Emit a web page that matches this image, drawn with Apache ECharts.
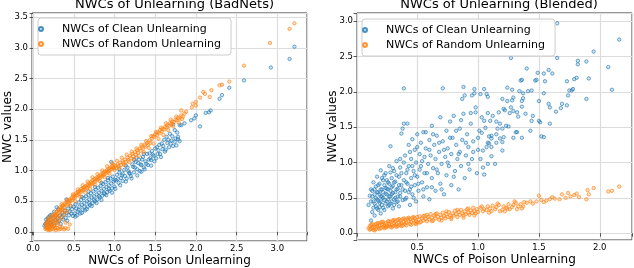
<!DOCTYPE html>
<html>
<head>
<meta charset="utf-8">
<script src="https://cdn.jsdelivr.net/npm/echarts@6/dist/echarts.min.js"></script>
<style>html,body{margin:0;padding:0;background:#fff}#c{width:634px;height:268px}</style>
</head>
<body>
<div id="c"></div>
<script>
// ---- Text ----
const titles = ['NWCs of Unlearning (BadNets)', 'NWCs of Unlearning (Blended)'];
const seriesNames = ['NWCs of Clean Unlearning', 'NWCs of Random Unlearning'];
const xAxisTitle = 'NWCs of Poison Unlearning';
const yAxisTitle = 'NWC values';
const tickStep = 0.5;

// ---- BadNets: Clean Unlearning [poison NWC, clean NWC] ----
const badnetsClean = [
[0.14,0.10],[0.15,0.13],[0.16,0.07],[0.17,0.15],[0.18,0.11],[0.19,0.18],[0.19,0.24],[0.20,0.09],[0.21,0.14],[0.22,0.20],
[0.23,0.12],[0.23,0.28],[0.24,0.17],[0.25,0.23],[0.26,0.10],[0.27,0.19],[0.28,0.26],[0.29,0.15],[0.30,0.22],[0.31,0.37],
[0.32,0.18],[0.33,0.27],[0.34,0.13],[0.35,0.24],[0.36,0.31],[0.37,0.20],[0.38,0.28],[0.39,0.35],[0.40,0.23],[0.41,0.53],
[0.41,0.31],[0.42,0.18],[0.43,0.38],[0.44,0.27],[0.45,0.33],[0.46,0.42],[0.47,0.30],[0.48,0.37],[0.49,0.26],[0.50,0.41],
[0.18,0.22],[0.21,0.27],[0.16,0.20],[0.26,0.33],[0.29,0.40],
[0.51,0.30],[0.52,0.45],[0.53,0.38],[0.54,0.27],[0.55,0.33],[0.56,0.48],[0.57,0.41],[0.58,0.30],[0.59,0.52],[0.60,0.44],
[0.61,0.36],[0.62,0.55],[0.63,0.47],[0.64,0.35],[0.65,0.58],[0.66,0.50],[0.67,0.41],[0.68,0.60],[0.69,0.53],[0.70,0.44],
[0.71,0.63],[0.72,0.56],[0.73,0.47],[0.74,0.66],[0.75,0.58],[0.76,0.50],[0.77,0.69],[0.78,0.61],[0.79,0.53],[0.80,0.72],
[0.81,0.64],[0.82,0.56],[0.83,0.75],[0.84,0.67],[0.85,0.59],[0.86,0.78],[0.87,0.70],[0.88,0.62],[0.89,0.81],[0.90,0.73],
[0.91,0.65],[0.92,0.84],[0.93,0.76],[0.94,0.67],[0.95,0.87],[0.96,1.14],[0.96,0.79],[0.97,0.71],[0.98,0.90],[0.99,0.82],
[1.00,0.74],[1.02,0.84],[1.03,0.93],[1.05,0.80],[1.06,0.97],[1.08,0.88],[1.09,0.92],[1.10,0.83],[1.12,1.01],[1.13,0.91],
[1.15,0.87],[1.16,1.05],[1.18,0.96],[1.19,0.95],[1.20,0.91],[1.22,1.10],[1.23,1.06],[1.24,0.97],[1.26,1.14],[1.27,1.21],
[1.28,1.02],[1.30,1.18],[1.31,0.99],[1.32,1.10],[1.33,1.09],[1.35,1.22],[1.36,1.05],[1.38,1.15],[1.39,1.11],[1.40,1.27],
[1.41,1.09],[1.43,1.28],[1.44,1.20],[1.45,1.17],[1.46,1.32],[1.48,1.24],[1.49,1.15],
[1.50,1.36],[1.52,1.38],[1.53,1.27],[1.55,1.42],[1.56,1.27],[1.58,1.44],[1.59,1.35],[1.61,1.50],[1.62,1.31],[1.64,1.55],
[1.65,1.45],[1.67,1.38],[1.68,1.60],[1.70,1.49],[1.72,1.40],[1.72,1.75],[1.74,1.47],[1.74,1.66],[1.76,1.41],[1.78,1.51],
[1.78,1.55],[1.80,1.74],[1.80,1.48],[1.82,1.74],[1.86,1.77],
[1.94,1.82],[1.98,1.85],[2.00,1.90],[2.05,1.72],[2.12,1.94],[2.16,1.95],[2.18,1.98],[2.29,2.17],[2.32,2.23],[2.41,2.35],
[2.59,2.47],[2.92,2.68],[3.15,2.82],[3.21,3.02],
[0.52,0.25],[0.56,0.36],[0.60,0.31],[0.63,0.41],[0.66,0.37],[0.69,0.47],[0.72,0.42],[0.75,0.52],[0.78,0.47],[0.81,0.58],
[0.84,0.52],[0.87,0.63],[0.90,0.60],[0.93,0.70],[0.97,0.64],[1.00,0.85],[1.01,0.70],[1.04,0.86],[1.07,0.76],[1.10,0.95],
[1.14,0.82],[1.17,0.99],[1.21,0.87],[1.25,1.05],[1.28,0.92],[1.29,1.12],[1.33,0.98],[1.34,1.18],[1.37,1.02],[1.42,1.18],
[1.45,1.08],[1.47,1.26],[1.51,1.20],[1.54,1.33],[1.57,1.22],[1.60,1.40],[1.63,1.34],[1.66,1.50],[1.69,1.44],[1.71,1.56],
[1.75,1.52],[1.77,1.62],[0.60,0.57],[0.68,0.66],[0.76,0.73],[0.84,0.80],[0.92,0.88],[1.06,1.02],[1.14,1.08],[1.24,1.17],
[1.36,1.27]
];

// ---- BadNets: Random Unlearning ----
const badnetsRandom = [
[0.15,0.05],[0.16,0.08],[0.16,0.12],[0.17,0.04],[0.17,0.10],[0.18,0.06],[0.18,0.14],[0.19,0.03],[0.19,0.09],[0.20,0.05],
[0.20,0.12],[0.20,0.17],[0.21,0.07],[0.21,0.03],[0.22,0.10],[0.22,0.15],[0.23,0.05],[0.23,0.19],[0.24,0.08],[0.24,0.13],
[0.25,0.04],[0.25,0.17],[0.26,0.10],[0.26,0.22],[0.27,0.06],[0.27,0.14],[0.28,0.20],[0.28,0.03],[0.29,0.11],[0.30,0.06],
[0.30,0.24],[0.31,0.16],[0.32,0.04],[0.33,0.09],[0.34,0.05],[0.36,0.07],[0.38,0.04],[0.40,0.06],[0.43,0.05],[0.18,0.19],
[0.16,0.15],[0.19,0.22],[0.21,0.20],[0.22,0.25],[0.24,0.26],
[0.35,0.22],[0.38,0.28],[0.42,0.33],[0.30,0.18],[0.45,0.12],[0.40,0.15],
[0.25,0.28],[0.26,0.25],[0.27,0.30],[0.28,0.27],[0.29,0.33],[0.30,0.29],[0.31,0.35],[0.32,0.31],[0.33,0.36],[0.33,0.40],
[0.34,0.34],[0.35,0.39],[0.36,0.42],[0.36,0.36],[0.37,0.44],[0.38,0.40],[0.39,0.46],[0.40,0.43],[0.41,0.49],[0.42,0.45],
[0.43,0.51],[0.44,0.48],[0.45,0.53],[0.46,0.50],[0.47,0.55],[0.48,0.52],[0.49,0.58],[0.50,0.55],[0.51,0.60],[0.52,0.57],
[0.53,0.63],[0.54,0.60],[0.55,0.65],[0.56,0.62],[0.57,0.67],[0.58,0.64],[0.59,0.70],[0.60,0.67],
[0.61,0.71],[0.62,0.68],[0.63,0.73],[0.64,0.70],[0.65,0.75],[0.66,0.72],[0.67,0.77],[0.68,0.74],[0.69,0.79],[0.70,0.76],
[0.71,0.81],[0.72,0.78],[0.73,0.84],[0.74,0.80],[0.75,0.86],[0.76,0.82],[0.77,0.87],[0.78,0.84],[0.79,0.89],[0.80,0.86],
[0.81,0.91],[0.82,0.88],[0.83,0.93],[0.84,0.90],[0.85,0.95],[0.86,0.92],[0.87,0.97],[0.88,0.94],[0.89,0.99],[0.90,0.96],
[0.91,1.01],[0.92,0.98],[0.93,1.03],[0.94,1.00],[0.95,1.05],[0.96,1.02],[0.97,1.07],[0.98,1.04],[0.99,1.09],[1.00,1.05],
[1.01,1.08],[1.02,1.04],[1.04,1.10],[1.05,1.07],[1.07,1.13],[1.08,1.09],[1.10,1.15],[1.11,1.12],[1.13,1.18],[1.14,1.14],
[1.16,1.21],[1.17,1.17],[1.19,1.24],[1.20,1.20],[1.22,1.27],[1.23,1.23],[1.25,1.30],[1.26,1.26],[1.28,1.33],[1.29,1.29],
[1.31,1.36],[1.32,1.32],[1.34,1.39],[1.35,1.36],[1.37,1.42],[1.38,1.39],[1.40,1.45],[1.41,1.42],[1.43,1.49],[1.44,1.45],
[1.46,1.52],[1.47,1.56],[1.49,1.55],[1.50,1.59],[1.52,1.58],[1.53,1.62],[1.55,1.61],[1.56,1.66],[1.58,1.64],[1.59,1.68],
[1.61,1.67],[1.62,1.71],[1.64,1.70],[1.65,1.74],[1.67,1.73],[1.68,1.77],[1.70,1.76],[1.71,1.80],[1.73,1.79],[1.75,1.83],
[1.77,1.82],[1.78,1.86],[1.80,1.85],[1.82,1.90],[1.84,1.88],[1.82,1.98],[1.86,1.93],[1.88,1.96],
[1.95,2.03],[1.96,2.09],[2.00,2.06],[2.00,2.12],[2.05,2.19],[2.09,2.28],[2.11,2.25],[2.17,2.20],[2.19,2.31],[2.29,2.39],
[2.32,2.40],[2.41,2.45],[2.59,2.71],[2.91,3.08],[3.15,3.31],[3.21,3.40],
[0.32,0.26],[0.35,0.45],[0.39,0.34],[0.42,0.52],[0.46,0.43],[0.49,0.61],[0.52,0.50],[0.55,0.69],[0.58,0.57],[0.61,0.76],
[0.64,0.64],[0.67,0.82],[0.70,0.70],[0.73,0.89],[0.76,0.77],[0.79,0.94],[0.82,0.83],[0.85,1.00],[0.88,0.89],[0.91,1.07],
[0.94,0.95],[0.97,1.12],[1.00,1.01],[1.03,1.16],[1.06,1.04],[1.09,1.21],[1.12,1.09],[1.15,1.26],[1.18,1.14],[1.21,1.31],
[1.24,1.19],[1.27,1.36],[1.30,1.24],[1.33,1.42],[1.36,1.30],[1.39,1.48],[1.42,1.37],[1.45,1.56],[1.48,1.44],[1.51,1.63],
[1.54,1.52],[1.57,1.70],[1.60,1.58],[1.63,1.77],[1.66,1.66],[1.69,1.83],[1.72,1.72],[1.76,1.88],[1.79,1.78],[1.83,1.84]
];

// ---- Blended: Clean Unlearning ----
const blendedClean = [
[0.10,0.40],[0.11,0.53],[0.12,0.18],[0.12,0.62],[0.13,0.60],[0.13,0.30],[0.14,0.45],[0.14,0.72],[0.15,0.25],[0.15,0.55],
[0.16,0.38],[0.16,0.66],[0.17,0.48],[0.17,0.80],[0.18,0.33],[0.18,0.58],[0.19,0.43],[0.19,0.70],[0.20,0.89],[0.20,0.52],
[0.20,0.28],
[0.21,0.62],[0.21,0.40],[0.22,0.75],[0.22,0.50],[0.23,0.33],[0.23,0.68],[0.24,0.56],[0.24,0.85],[0.25,0.45],[0.25,0.63],
[0.26,0.38],[0.26,0.72],[0.27,0.52],[0.27,0.95],[0.28,1.23],[0.28,0.60],[0.28,0.42],[0.29,0.78],[0.29,0.55],[0.30,0.35],
[0.30,0.67],[0.31,0.48],[0.31,0.88],[0.32,0.58],[0.32,0.73],[0.33,0.44],[0.33,1.02],[0.34,0.63],[0.34,0.52],[0.35,0.80],
[0.35,0.38],
[0.36,0.57],[0.36,0.93],[0.37,1.41],[0.37,0.68],[0.38,0.47],[0.38,1.48],[0.39,0.75],[0.39,1.55],[0.39,2.05],[0.40,0.60],
[0.40,1.10],[0.41,0.85],[0.41,0.50],[0.42,1.55],[0.42,0.70],[0.43,0.95],[0.43,1.25],[0.44,0.62],[0.44,0.40],[0.45,1.05],
[0.45,0.78],[0.46,0.55],[0.46,1.33],[0.47,0.88],[0.48,1.18],[0.48,0.68],[0.49,0.45],[0.49,1.00],[0.50,0.80],[0.50,1.40],
[0.51,0.60],[0.52,1.12],[0.52,0.90],[0.53,1.28],[0.54,0.72],[0.54,1.02],[0.55,1.43],[0.55,0.52],
[0.56,0.85],[0.57,1.20],[0.57,1.43],[0.58,0.65],[0.59,0.98],[0.60,1.32],[0.60,0.48],[0.61,1.10],[0.62,0.78],[0.62,1.52],
[0.63,0.92],[0.64,1.25],[0.65,0.60],[0.65,1.05],[0.66,1.38],[0.67,0.85],[0.68,1.15],[0.69,1.64],[0.69,0.70],[0.70,0.98],
[0.71,2.05],[0.71,1.30],[0.72,0.55],[0.73,1.08],[0.74,1.45],[0.74,0.82],[0.75,1.20],[0.76,0.95],[0.77,1.58],[0.78,0.68],
[0.78,1.12],[0.79,1.35],
[0.80,1.66],[0.81,0.88],[0.82,1.25],[0.83,1.05],[0.84,0.62],[0.85,1.48],[0.85,1.15],[0.86,0.95],[0.87,1.90],[0.87,1.32],
[0.88,1.69],[0.88,2.07],[0.89,1.95],[0.89,0.78],[0.90,1.10],[0.91,1.40],[0.92,1.22],[0.93,0.90],[0.94,1.55],[0.95,1.95],
[0.95,1.05],[0.96,1.30],[0.97,2.04],[0.97,1.98],[0.98,1.78],[0.98,1.71],[0.99,0.85],[1.00,1.18],[1.01,1.45],[1.02,1.97],
[1.03,1.64],[1.03,1.42],[1.04,0.93],[1.04,1.17],[1.05,2.04],[1.05,1.59],[1.05,0.83],
[1.06,1.49],[1.07,1.22],[1.07,1.97],[1.08,1.93],[1.08,0.98],[1.08,1.28],[1.08,1.70],[1.09,1.37],[1.09,1.27],[1.10,1.59],
[1.11,1.38],[1.11,1.22],[1.11,1.34],[1.11,1.09],[1.12,1.66],[1.14,0.98],[1.15,1.58],[1.15,1.40],[1.15,1.28],[1.16,1.48],
[1.17,1.71],[1.18,1.55],[1.18,1.34],[1.20,1.48],[1.20,1.17],[1.20,1.29],[1.20,1.90],[1.21,1.36],[1.21,1.76],[1.22,1.74],
[1.23,1.52],[1.24,2.06],[1.24,1.87],[1.25,1.51],[1.26,1.70],[1.27,2.48],[1.27,1.78],[1.28,2.03],[1.28,1.88],[1.29,1.35],
[1.29,1.73],[1.29,1.92],[1.31,1.43],[1.32,1.71],[1.32,1.43],[1.33,1.65],[1.34,2.01],[1.35,2.16],[1.36,1.35],[1.36,1.87],
[1.36,1.79],[1.36,2.17],[1.37,1.91],[1.37,1.98],[1.39,1.69],[1.40,2.33],[1.41,2.01],[1.43,1.45],[1.44,1.59],[1.44,2.02],
[1.45,1.66],[1.47,2.16],[1.48,2.17],[1.49,2.27],[1.50,1.59],[1.50,1.87],[1.51,1.57],[1.52,1.37],[1.54,2.26],[1.54,1.98],
[1.54,1.36],[1.55,2.15],[1.58,2.31],[1.58,1.83],[1.59,1.55],[1.59,1.78],
[1.61,2.26],[1.64,1.72],[1.65,2.48],[1.65,2.97],[1.68,1.77],[1.69,1.83],[1.73,1.81],[1.73,2.15],[1.74,1.95],[1.75,2.02],
[1.77,2.02],[1.78,2.04],[1.79,2.18],[1.81,2.20],[1.82,2.44],[1.82,2.39],[1.89,2.43],[1.89,1.90],[1.91,2.19],[1.95,2.57],
[2.07,2.35],[2.10,2.03],[2.16,2.74],
[0.12,0.45],[0.13,0.52],[0.14,0.36],[0.15,0.62],[0.15,0.42],[0.16,0.50],[0.17,0.35],[0.17,0.58],[0.18,0.46],[0.18,0.68],
[0.19,0.55],[0.19,0.37],[0.20,0.62],[0.20,0.45],[0.21,0.52],[0.21,0.78],[0.22,0.58],[0.22,0.36],[0.23,0.47],[0.23,0.82],
[0.24,0.64],[0.24,0.42],[0.25,0.55],[0.25,0.75],[0.26,0.48],[0.26,0.62],[0.27,0.40],[0.27,0.70],[0.28,0.52],[0.28,0.86],
[0.29,0.45],[0.29,0.65],[0.30,0.57],[0.30,0.92],[0.31,0.40],[0.31,0.72],[0.32,0.50],[0.33,0.62],[0.33,0.82],[0.34,0.45],
[0.35,0.68],[0.36,0.52],[0.36,1.05],[0.37,0.85],[0.38,0.62],[0.39,1.00],[0.40,0.48],[0.41,0.72],[0.42,0.90],[0.43,0.58],
[0.44,1.15],[0.45,0.66],[0.46,0.95],[0.47,0.50],[0.48,0.82],[0.50,1.22],[0.51,0.70],[0.53,0.95],[0.55,0.62],[0.56,1.08],
[0.58,0.85],[0.60,1.18],[0.62,0.65],[0.63,1.40],[0.66,0.90],[0.68,1.28],[0.70,0.62],[0.72,1.18],[0.75,1.00],[0.77,1.35],
[0.80,0.80],[0.82,1.45],[0.84,1.12],[0.86,1.60],[0.90,1.28],[0.92,0.98],[0.94,1.70],[0.96,1.15],[1.00,1.35],[1.02,1.05]
];

// ---- Blended: Random Unlearning ----
const blendedRandom = [
[0.10,0.07],[0.11,0.10],[0.12,0.06],[0.12,0.12],[0.13,0.08],[0.14,0.05],[0.14,0.11],[0.15,0.09],[0.16,0.13],[0.16,0.06],
[0.17,0.10],[0.18,0.08],[0.18,0.14],[0.19,0.11],[0.20,0.07],[0.20,0.15],[0.21,0.12],[0.22,0.09],[0.22,0.16],[0.23,0.11],
[0.24,0.14],[0.24,0.08],[0.25,0.12],[0.26,0.17],[0.26,0.10],[0.27,0.13],[0.28,0.09],[0.28,0.16],[0.29,0.12],[0.30,0.18],
[0.30,0.10],[0.31,0.14],[0.32,0.11],[0.32,0.17],[0.33,0.13],[0.34,0.19],[0.34,0.10],[0.35,0.15],[0.36,0.12],[0.36,0.18],
[0.37,0.14],[0.38,0.20],[0.38,0.11],[0.39,0.16],[0.40,0.13],[0.40,0.19],[0.41,0.15],[0.42,0.21],[0.43,0.17],[0.44,0.13],
[0.44,0.20],[0.45,0.16],[0.46,0.22],[0.47,0.18],[0.48,0.14],[0.48,0.21],[0.49,0.17],[0.50,0.23],[0.50,0.15],
[0.51,0.19],[0.52,0.24],[0.53,0.16],[0.54,0.21],[0.55,0.18],[0.56,0.25],[0.57,0.20],[0.58,0.17],[0.59,0.23],[0.60,0.20],
[0.61,0.27],[0.62,0.22],[0.63,0.18],[0.64,0.25],[0.65,0.21],[0.66,0.28],[0.67,0.23],[0.68,0.19],[0.69,0.26],[0.70,0.22],
[0.71,0.29],[0.72,0.24],[0.73,0.21],[0.74,0.27],[0.75,0.23],[0.76,0.30],[0.77,0.25],[0.78,0.22],[0.79,0.28],[0.80,0.25],
[0.81,0.32],[0.82,0.27],[0.83,0.23],[0.84,0.30],[0.85,0.26],[0.86,0.33],[0.87,0.28],[0.88,0.25],[0.89,0.31],[0.90,0.27],
[0.91,0.34],[0.92,0.29],[0.93,0.26],[0.94,0.32],[0.95,0.29],[0.96,0.36],[0.97,0.31],[0.98,0.28],[0.99,0.34],[1.00,0.30],
[1.02,0.36],[1.04,0.31],[1.05,0.34],[1.07,0.33],[1.08,0.38],[1.10,0.35],[1.11,0.31],[1.12,0.39],[1.14,0.34],[1.15,0.37],
[1.17,0.40],[1.18,0.31],[1.20,0.33],[1.21,0.38],[1.23,0.36],[1.24,0.35],[1.25,0.41],[1.26,0.34],[1.28,0.37],[1.29,0.40],
[1.31,0.43],[1.32,0.34],[1.33,0.38],[1.35,0.41],[1.37,0.38],[1.38,0.44],[1.40,0.43],
[1.43,0.45],[1.45,0.42],[1.48,0.45],[1.50,0.53],[1.52,0.47],[1.54,0.44],[1.56,0.46],[1.59,0.48],[1.61,0.51],[1.63,0.49],
[1.67,0.48],[1.69,0.55],[1.72,0.50],[1.74,0.57],[1.76,0.52],[1.79,0.54],[1.81,0.56],[1.83,0.51],[1.89,0.48],[1.90,0.61],
[1.91,0.55],[1.95,0.64],[2.07,0.59],[2.10,0.60],[2.16,0.66],
[0.11,0.05],[0.13,0.13],[0.15,0.04],[0.17,0.14],[0.19,0.06],[0.21,0.16],[0.23,0.07],[0.25,0.09],[0.27,0.17],[0.29,0.08],
[0.31,0.19],[0.33,0.09],[0.35,0.20],[0.37,0.10],[0.39,0.21],[0.41,0.11],[0.43,0.22],[0.45,0.12],[0.47,0.23],[0.49,0.13],
[0.52,0.15],[0.55,0.24],[0.58,0.26],[0.62,0.17],[0.65,0.27],[0.70,0.18],[0.74,0.31],[0.78,0.20],[0.83,0.33],[0.88,0.22],
[0.92,0.35],[0.97,0.25],[1.03,0.38],[1.09,0.29],[1.16,0.42],[1.22,0.31],[1.30,0.45],[1.36,0.35]
];

// ---- Styling ----
const FONT = 'DejaVu Sans';
const BLUE = '#1f77b4', ORANGE = '#ff7f0e';
const isTick = v => Math.abs(v / tickStep - Math.round(v / tickStep)) < 1e-6;
const fmt = v => isTick(v) ? v.toFixed(1) : '';

function mkX(gi, min, max, split) {
  return {
    type: 'value', gridIndex: gi, min: min, max: max, splitNumber: split,
    minInterval: tickStep, maxInterval: tickStep,
    name: xAxisTitle, nameLocation: 'middle', nameGap: 14, nameMoveOverlap: false,
    nameTextStyle: { fontFamily: FONT, fontSize: 12, color: '#000' },
    axisLine: { show: false },
    axisTick: { show: true, length: 3.5, lineStyle: { color: '#333', width: 0.8 } },
    axisLabel: { formatter: fmt, fontFamily: FONT, fontSize: 8.5, color: '#000', margin: 3 },
    splitLine: { show: true, lineStyle: { color: '#dcdcdc', width: 1.2 } }
  };
}
function mkY(gi, min, max, split) {
  return {
    type: 'value', gridIndex: gi, min: min, max: max, splitNumber: split,
    minInterval: tickStep, maxInterval: tickStep,
    name: yAxisTitle, nameLocation: 'middle', nameGap: 18, nameRotate: 90, nameMoveOverlap: false,
    nameTextStyle: { fontFamily: FONT, fontSize: 12, color: '#000' },
    axisLine: { show: false },
    axisTick: { show: true, length: 3.5, lineStyle: { color: '#333', width: 0.8 } },
    axisLabel: { formatter: fmt, fontFamily: FONT, fontSize: 8.5, color: '#000', margin: 4 },
    splitLine: { show: true, lineStyle: { color: '#dcdcdc', width: 1.2 } }
  };
}
function mkSeries(name, data, gi, color, fill) {
  return {
    type: 'scatter', name: name, data: data, xAxisIndex: gi, yAxisIndex: gi,
    symbol: 'circle', symbolSize: 3.4,
    itemStyle: { color: fill, borderColor: color, borderWidth: 0.8 },
    emphasis: { disabled: true }
  };
}
function mkLegend(left, top) {
  return {
    orient: 'vertical', left: left, top: top, data: seriesNames,
    itemWidth: 32, itemHeight: 4, itemGap: 4, padding: [5.5, 10, 5.5, 0],
    backgroundColor: 'rgba(255,255,255,0.8)', borderColor: '#cccccc', borderWidth: 1, borderRadius: 3,
    textStyle: { fontFamily: FONT, fontSize: 11, color: '#000' }, selectedMode: false
  };
}

const chart = echarts.init(document.getElementById('c'), null, { renderer: 'canvas' });
chart.setOption({
  animation: false,
  backgroundColor: '#fff',
  title: [
    { text: titles[0], left: 169.5, top: -7, textAlign: 'center', textStyle: { fontFamily: FONT, fontSize: 13, fontWeight: 'normal', color: '#000' } },
    { text: titles[1], left: 494, top: -7, textAlign: 'center', textStyle: { fontFamily: FONT, fontSize: 13, fontWeight: 'normal', color: '#000' } }
  ],
  grid: [
    { left: 32, top: 13, width: 275, height: 228, outerBoundsMode: 'none', containLabel: false, show: true, borderColor: '#333', borderWidth: 1, backgroundColor: 'transparent' },
    { left: 357, top: 13, width: 275, height: 227, outerBoundsMode: 'none', containLabel: false, show: true, borderColor: '#333', borderWidth: 1, backgroundColor: 'transparent' }
  ],
  xAxis: [mkX(0, -0.013, 3.364, 7), mkX(1, 0.005, 2.265, 5)],
  yAxis: [mkY(0, -0.149, 3.569, 7), mkY(1, -0.096, 3.116, 6)],
  legend: [mkLegend(38, 18), mkLegend(362, 19)],
  series: [
    mkSeries(seriesNames[0], badnetsClean, 0, BLUE, 'rgba(31,119,180,0.25)'),
    mkSeries(seriesNames[1], badnetsRandom, 0, ORANGE, 'rgba(255,127,14,0.3)'),
    mkSeries(seriesNames[0], blendedClean, 1, BLUE, 'rgba(31,119,180,0.25)'),
    mkSeries(seriesNames[1], blendedRandom, 1, ORANGE, 'rgba(255,127,14,0.3)')
  ]
});
</script>
</body>
</html>
